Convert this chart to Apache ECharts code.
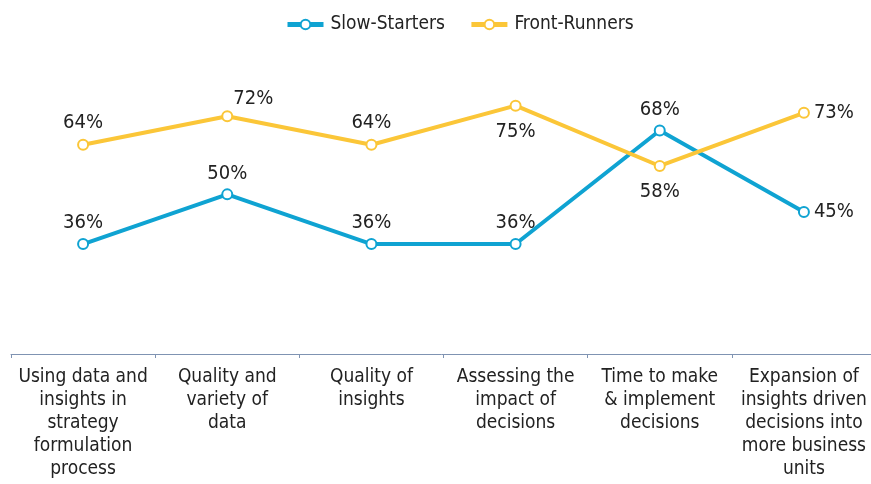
<!DOCTYPE html>
<html>
<head>
<meta charset="utf-8">
<style>html,body{margin:0;padding:0;background:#fff}#chart{width:871px;height:484px}</style>
<script src="https://cdn.jsdelivr.net/npm/echarts@6/dist/echarts.min.js"></script>
</head>
<body>
<div id="chart"></div>
<script>
var chart = echarts.init(document.getElementById('chart'));

// categories and values (percent)
var categories = [
  'Using data and\ninsights in\nstrategy\nformulation\nprocess',
  'Quality and\nvariety of\ndata',
  'Quality of\ninsights',
  'Assessing the\nimpact of\ndecisions',
  'Time to make\n& implement\ndecisions',
  'Expansion of\ninsights driven\ndecisions into\nmore business\nunits'
];
var slowStarters = [36, 50, 36, 36, 68, 45];
var frontRunners = [64, 72, 64, 75, 58, 73];

var FONT = '"Liberation Sans Narrow", "DejaVu Sans Condensed", "Liberation Sans", sans-serif';

// label placement per point: [position, distance]
var slowPos = [['top', 5], ['top', 5], ['top', 5], ['top', 5], ['top', 5], ['right', 4]];
var frontPos = [['top', 6], [[12, -22], 0], ['top', 6], ['bottom', 10], ['bottom', 10], ['right', 4]];

function withLabels(values, pos) {
  return values.map(function (v, i) {
    return { value: v, label: { position: pos[i][0], distance: pos[i][1] } };
  });
}

var labelStyle = {
  show: true,
  formatter: '{c}%',
  fontFamily: FONT,
  fontSize: 20,
  color: '#222'
};

var option = {
  animation: false,
  legend: {
    top: 10,
    left: 280,
    itemWidth: 36,
    itemHeight: 12,
    itemGap: 24,
    lineStyle: { width: 5 },
    textStyle: { fontFamily: FONT, fontSize: 19, color: '#222', padding: [0, 0, 0, 2] },
    data: ['Slow-Starters', 'Front-Runners']
  },
  grid: { left: 11, right: -5, top: 17, bottom: 130, outerBoundsMode: 'none', containLabel: false },
  xAxis: {
    type: 'category',
    data: categories,
    boundaryGap: true,
    axisLine: { onZero: false, lineStyle: { color: '#7f93b2', width: 1 } },
    axisTick: { show: true, length: 4, lineStyle: { color: '#7f93b2' } },
    axisLabel: {
      interval: 0,
      margin: 12,
      fontFamily: FONT,
      fontSize: 19,
      lineHeight: 23,
      color: '#222'
    }
  },
  yAxis: {
    type: 'value',
    min: 5,
    max: 100,
    show: false,
    splitLine: { show: false }
  },
  series: [
    {
      name: 'Slow-Starters',
      type: 'line',
      data: withLabels(slowStarters, slowPos),
      color: '#0fa3d2',
      lineStyle: { width: 4 },
      symbol: 'emptyCircle',
      symbolSize: 10,
      itemStyle: { borderWidth: 2 },
      label: labelStyle
    },
    {
      name: 'Front-Runners',
      type: 'line',
      data: withLabels(frontRunners, frontPos),
      color: '#fbc638',
      lineStyle: { width: 4 },
      symbol: 'emptyCircle',
      symbolSize: 10,
      itemStyle: { borderWidth: 2 },
      label: labelStyle
    }
  ]
};

chart.setOption(option);
</script>
</body>
</html>
